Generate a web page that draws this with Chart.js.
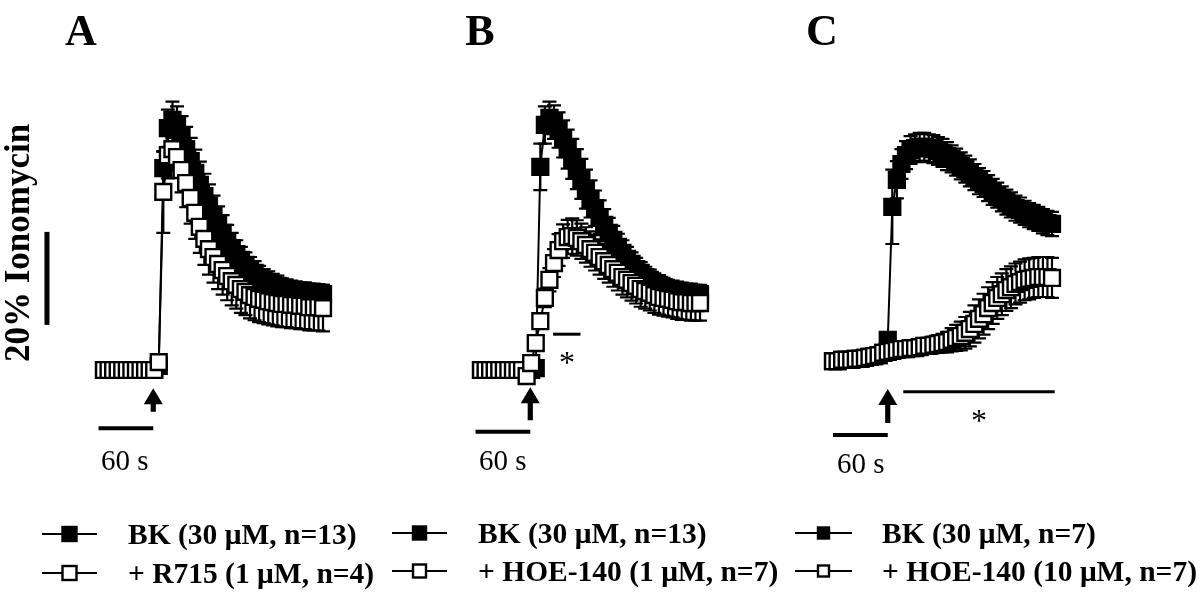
<!DOCTYPE html>
<html>
<head>
<meta charset="utf-8">
<script src="https://cdn.jsdelivr.net/npm/chart.js@4.4.1/dist/chart.umd.min.js"></script>
<style>
  html, body { margin: 0; padding: 0; background: #fff; }
  body { width: 1200px; height: 595px; position: relative; overflow: hidden; }
  canvas { position: absolute; top: 0; }
</style>
</head>
<body>
<canvas id="panelA"></canvas>
<canvas id="panelB"></canvas>
<canvas id="panelC"></canvas>
<script>
// time in s, one sample every 5 s (same grid for all three panels)
const times = [0, 5, 10, 15, 20, 25, 30, 35, 40, 45, 50, 55, 60, 65, 70, 75, 80, 85, 90, 95,
  100, 105, 110, 115, 120, 125, 130, 135, 140, 145, 150, 155, 160, 165, 170, 175, 180, 185, 190, 195,
  200, 205, 210, 215, 220, 225, 230, 235, 240];

// values in % of ionomycin response, errors = SEM
const bkA = [0, 0, 0, 0, 0, 0, 0, 0, 0, 0, 0, 0,
  0.9, 43.4, 52.0, 53.8, 52.5, 50.1, 47.5, 44.9, 42.4, 39.8, 37.4, 35.3, 33.1, 31.2, 29.5, 27.7, 26.2, 24.9,
  23.7, 22.6, 21.7, 20.9, 20.0, 19.4, 18.9, 18.5, 18.1, 17.6, 17.4, 17.2, 17.0, 16.8, 16.8, 16.6, 16.6, 16.3, 16.3];
const bkAErr = [0.4, 0.4, 0.4, 0.4, 0.4, 0.4, 0.4, 0.4, 0.4, 0.4, 0.4, 0.4,
  1.0, 3.5, 4.0, 3.9, 4.2, 4.5, 4.8, 5.0, 5.0, 5.0, 4.8, 4.6, 4.4, 4.0, 3.8, 3.5, 3.3, 3.0,
  2.8, 2.7, 2.6, 2.5, 2.4, 2.3, 2.3, 2.2, 2.2, 2.1, 2.1, 2.0, 2.0, 2.0, 2.0, 2.0, 2.0, 2.0, 2.0];
const r715A = [0, 0, 0, 0, 0, 0, 0, 0, 0, 0, 0, 0,
  1.7, 38.3, 46.2, 47.5, 45.8, 43.0, 40.2, 37.0, 33.8, 30.8, 28.2, 26.0, 24.3, 22.8, 21.5, 20.2, 19.1, 18.3,
  17.4, 16.8, 16.1, 15.7, 15.3, 15.1, 14.8, 14.6, 14.4, 14.2, 14.2, 14.0, 14.0, 13.8, 13.8, 13.5, 13.5, 13.5, 13.3];
const r715AErr = [0.4, 0.4, 0.4, 0.4, 0.4, 0.4, 0.4, 0.4, 0.4, 0.4, 0.4, 0.4,
  0.8, 8.8, 5.0, 4.5, 4.5, 4.8, 5.2, 5.5, 5.6, 5.6, 5.6, 5.5, 5.5, 5.4, 5.3, 5.2, 5.2, 5.1,
  5.1, 5.0, 5.0, 5.0, 5.0, 5.0, 5.0, 5.0, 5.0, 5.0, 5.0, 5.0, 5.0, 5.0, 5.0, 5.0, 5.0, 5.0, 5.0];

const bkB = [0, 0, 0, 0, 0, 0, 0, 0, 0, 0, 0, 0,
  0.4, 43.7, 52.7, 54.2, 53.3, 51.6, 49.7, 47.5, 45.4, 43.2, 41.1, 38.9, 36.8, 34.8, 32.9, 31.2, 29.5, 28.0,
  26.5, 25.2, 23.9, 22.8, 21.7, 20.9, 20.0, 19.4, 18.7, 18.3, 17.8, 17.4, 17.2, 17.0, 16.8, 16.6, 16.6, 16.3, 16.3];
const bkBErr = [0.4, 0.4, 0.4, 0.4, 0.4, 0.4, 0.4, 0.4, 0.4, 0.4, 0.4, 0.4,
  0.8, 5.0, 4.0, 3.5, 3.6, 3.8, 4.0, 4.2, 4.3, 4.3, 4.3, 4.2, 4.0, 3.8, 3.6, 3.4, 3.2, 3.0,
  2.8, 2.7, 2.6, 2.5, 2.4, 2.3, 2.2, 2.2, 2.1, 2.1, 2.0, 2.0, 2.0, 2.0, 2.0, 2.0, 2.0, 2.0, 2.0];
const hoe1B = [0, 0, 0, 0, 0, 0, 0, 0, 0,
  0.0, -1.3, 1.5, 5.8, 10.5, 15.5, 19.4, 23.0, 25.8, 27.7, 28.6, 28.8, 28.4, 27.7, 26.9, 26.0, 25.2, 24.3, 23.4,
  22.6, 21.7, 20.9, 20.0, 19.4, 18.7, 18.1, 17.4, 17.0, 16.6, 16.1, 15.7, 15.5, 15.3, 15.1, 14.8, 14.6, 14.6, 14.4, 14.4, 14.4];
const hoe1BErr = [0.4, 0.4, 0.4, 0.4, 0.4, 0.4, 0.4, 0.4, 0.4,
  0.5, 0.8, 1.0, 1.3, 1.6, 2.0, 2.5, 3.0, 3.4, 3.6, 3.7, 3.8, 3.8, 3.8, 3.8, 3.8, 3.8, 3.8, 3.8,
  3.8, 3.8, 3.8, 3.8, 3.8, 3.8, 3.8, 3.8, 3.8, 3.8, 3.8, 3.8, 3.8, 3.8, 3.8, 3.8, 3.8, 3.8, 3.8, 3.8, 3.8];

const bkC = [1.9, 1.9, 2.2, 2.2, 2.2, 2.4, 2.4, 2.6, 2.8, 3.0, 3.2, 3.7,
  6.5, 35.1, 40.9, 44.3, 46.2, 47.3, 47.7, 48.0, 48.0, 47.7, 47.5, 47.1, 46.7, 46.0, 45.4, 44.7, 43.9, 43.2,
  42.4, 41.5, 40.6, 40.0, 39.1, 38.3, 37.6, 36.8, 36.1, 35.5, 34.8, 34.4, 33.8, 33.3, 32.9, 32.5, 32.0, 31.6, 31.4];
const bkCErr = [0.8, 0.8, 0.8, 0.8, 0.8, 0.8, 0.8, 0.8, 0.8, 0.8, 0.8, 0.8,
  1.5, 8.0, 4.0, 3.2, 3.0, 3.0, 3.0, 3.0, 3.0, 3.0, 3.0, 3.0, 3.0, 3.0, 2.9, 2.9, 2.9, 2.9,
  2.9, 2.8, 2.8, 2.8, 2.8, 2.8, 2.7, 2.7, 2.7, 2.7, 2.7, 2.7, 2.6, 2.6, 2.6, 2.6, 2.6, 2.6, 2.6];
const hoe10C = [1.9, 1.9, 2.2, 2.2, 2.2, 2.4, 2.4, 2.6, 2.8, 3.0, 3.2, 3.7,
  3.9, 4.1, 4.3, 4.5, 4.5, 4.7, 4.7, 4.9, 5.2, 5.2, 5.4, 5.6, 5.8, 6.0, 6.5, 6.9, 7.3, 8.0,
  8.8, 9.9, 11.0, 12.0, 13.3, 14.4, 15.5, 16.3, 17.2, 17.8, 18.5, 18.9, 19.4, 19.6, 19.8, 20.0, 20.0, 20.0, 19.8];
const hoe10CErr = [1.0, 1.0, 1.0, 1.0, 1.0, 1.0, 1.0, 1.0, 1.0, 1.0, 1.0, 1.0,
  1.2, 1.2, 1.3, 1.3, 1.4, 1.4, 1.5, 1.5, 1.6, 1.7, 1.8, 1.9, 2.0, 2.2,
  2.5, 2.8, 3.1, 3.4, 3.7, 4.0, 4.2, 4.4, 4.5, 4.5, 4.5, 4.5, 4.5, 4.5, 4.4, 4.4, 4.4, 4.4, 4.3, 4.3, 4.3, 4.3, 4.3];

const labelsA = ['BK (30 \u03bcM, n=13)', '+ R715 (1 \u03bcM, n=4)'];
const labelsB = ['BK (30 \u03bcM, n=13)', '+ HOE-140 (1 \u03bcM, n=7)'];
const labelsC = ['BK (30 \u03bcM, n=7)', '+ HOE-140 (10 \u03bcM, n=7)'];

// page geometry
const PX_PER_SEC = 0.9125;   // 60 s -> 55 px
const PX_PER_PCT = 4.65;     // 20 % -> 93 px
const BASE_Y = 370;          // page y of 0 %
const H = 595;
const SERIF = '"Liberation Serif", "Times New Roman", serif';

// vertical SEM bars, drawn under each dataset's markers
const errorBars = {
  id: 'errorBars',
  beforeDatasetDraw(chart, args) {
    const ds = chart.data.datasets[args.index];
    if (!ds.errors) return;
    const ctx = chart.ctx, ys = chart.scales.y;
    ctx.save();
    ctx.strokeStyle = '#000';
    ctx.lineWidth = 2.2;
    args.meta.data.forEach((pt, i) => {
      const v = ds.data[i].y, e = ds.errors[i];
      const top = ys.getPixelForValue(v + e), bot = ys.getPixelForValue(v - e);
      ctx.beginPath();
      ctx.moveTo(pt.x, top); ctx.lineTo(pt.x, bot);
      ctx.moveTo(pt.x - 7, top); ctx.lineTo(pt.x + 7, top);
      ctx.moveTo(pt.x - 7, bot); ctx.lineTo(pt.x + 7, bot);
      ctx.stroke();
    });
    ctx.restore();
  }
};

function drawArrow(ctx, x, yTip, yEnd) {
  ctx.beginPath();
  ctx.moveTo(x, yTip);
  ctx.lineTo(x + 9.5, yTip + 16);
  ctx.lineTo(x + 2.6, yTip + 16);
  ctx.lineTo(x + 2.6, yEnd);
  ctx.lineTo(x - 2.6, yEnd);
  ctx.lineTo(x - 2.6, yTip + 16);
  ctx.lineTo(x - 9.5, yTip + 16);
  ctx.closePath();
  ctx.fill();
}

function makePanel(cfg) {
  const cv = document.getElementById(cfg.id);
  cv.width = cfg.width;
  cv.height = H;
  cv.style.left = cfg.left + 'px';

  const pts = vals => times.map((t, i) => ({ x: t, y: vals[i] }));
  const common = {
    borderColor: '#000', borderWidth: 2, tension: 0, fill: false,
    pointStyle: 'rect', pointRadius: cfg.marker, pointBorderWidth: 2.4, pointBorderColor: '#000'
  };

  const deco = {
    id: 'deco',
    afterDraw(chart) {
      const ctx = chart.ctx, xs = chart.scales.x, ys = chart.scales.y;
      const L = cfg.left;
      ctx.save();
      ctx.fillStyle = '#000';
      ctx.strokeStyle = '#000';

      // panel letter
      ctx.font = 'bold 44px ' + SERIF;
      ctx.textAlign = 'center';
      ctx.fillText(cfg.letter, cfg.letterX - L, 45);

      // 60 s bar ending at the BK arrow
      ctx.lineWidth = 4;
      ctx.beginPath();
      ctx.moveTo(xs.getPixelForValue(cfg.arrowT - 60), ys.getPixelForValue(cfg.barY));
      ctx.lineTo(xs.getPixelForValue(cfg.arrowT), ys.getPixelForValue(cfg.barY));
      ctx.stroke();
      ctx.font = '29px ' + SERIF;
      ctx.textAlign = 'left';
      ctx.fillText('60 s', cfg.secX - L, cfg.secY);

      // BK application arrow
      drawArrow(ctx, xs.getPixelForValue(cfg.arrowT), ys.getPixelForValue(cfg.arrowTop), ys.getPixelForValue(cfg.arrowBot));

      // significance marker
      if (cfg.sig) {
        ctx.lineWidth = 3;
        ctx.beginPath();
        ctx.moveTo(xs.getPixelForValue(cfg.sig.from), ys.getPixelForValue(cfg.sig.y));
        ctx.lineTo(xs.getPixelForValue(cfg.sig.to), ys.getPixelForValue(cfg.sig.y));
        ctx.stroke();
        ctx.font = '32px ' + SERIF;
        ctx.textAlign = 'center';
        ctx.fillText('*', cfg.sig.starX - L, cfg.sig.starY);
      }

      // 20 % ionomycin calibration bar (panel A only)
      if (cfg.calib) {
        ctx.lineWidth = 5;
        ctx.beginPath();
        ctx.moveTo(xs.getPixelForValue(cfg.calib.t), ys.getPixelForValue(cfg.calib.from));
        ctx.lineTo(xs.getPixelForValue(cfg.calib.t), ys.getPixelForValue(cfg.calib.from + 20));
        ctx.stroke();
        ctx.save();
        ctx.translate(20 - L, 243);
        ctx.rotate(-Math.PI / 2);
        ctx.font = 'bold 35px ' + SERIF;
        ctx.textAlign = 'center';
        ctx.textBaseline = 'middle';
        ctx.fillText('20% Ionomycin', 0, 0);
        ctx.restore();
      }

      // legend: filled series first, open series second
      [1, 0].forEach((di, row) => {
        const ds = chart.data.datasets[di];
        const y = cfg.legRows[row];
        ctx.lineWidth = 2;
        ctx.beginPath();
        ctx.moveTo(cfg.legLine[0] - L, y);
        ctx.lineTo(cfg.legLine[1] - L, y);
        ctx.stroke();
        const cx = (cfg.legLine[0] + cfg.legLine[1]) / 2 - L, s = cfg.legSq;
        ctx.fillStyle = ds.pointBackgroundColor;
        ctx.fillRect(cx - s / 2, y - s / 2, s, s);
        ctx.lineWidth = 2.4;
        ctx.strokeRect(cx - s / 2, y - s / 2, s, s);
        ctx.fillStyle = '#000';
        ctx.font = 'bold 29.5px ' + SERIF;
        ctx.textAlign = 'left';
        ctx.fillText(ds.label, cfg.legText - L, y + 10);
      });
      ctx.restore();
    }
  };

  return new Chart(cv, {
    type: 'line',
    data: {
      datasets: [
        Object.assign({}, common, {
          label: cfg.labels[1], data: pts(cfg.open), errors: cfg.openErr,
          pointBackgroundColor: '#fff', order: 0
        }),
        Object.assign({}, common, {
          label: cfg.labels[0], data: pts(cfg.filled), errors: cfg.filledErr,
          pointBackgroundColor: '#000', order: 1
        })
      ]
    },
    options: {
      responsive: false,
      animation: false,
      events: [],
      layout: { padding: 0, autoPadding: false },
      plugins: { legend: { display: false }, tooltip: { enabled: false } },
      scales: {
        x: {
          type: 'linear', display: false,
          min: (cfg.left - cfg.x0) / PX_PER_SEC,
          max: (cfg.left + cfg.width - cfg.x0) / PX_PER_SEC
        },
        y: {
          display: false,
          min: (BASE_Y - H) / PX_PER_PCT,
          max: BASE_Y / PX_PER_PCT
        }
      }
    },
    plugins: [errorBars, deco]
  });
}

makePanel({
  id: 'panelA', left: 0, width: 390, x0: 104, marker: 11.2,
  filled: bkA, filledErr: bkAErr, open: r715A, openErr: r715AErr, labels: labelsA,
  letter: 'A', letterX: 81,
  arrowT: 54, arrowTop: -3.9, arrowBot: -9.0, barY: -12.5,
  secX: 101, secY: 470,
  calib: { t: -62.5, from: 9.7 },
  legLine: [42, 97], legSq: 14, legText: 128, legRows: [534, 573]
});

makePanel({
  id: 'panelB', left: 380, width: 420, x0: 481, marker: 11.2,
  filled: bkB, filledErr: bkBErr, open: hoe1B, openErr: hoe1BErr, labels: labelsB,
  letter: 'B', letterX: 480,
  arrowT: 54, arrowTop: -3.7, arrowBot: -10.8, barY: -13.3,
  secX: 479, secY: 470,
  sig: { from: 79, to: 109, y: 7.7, starX: 567, starY: 373 },
  legLine: [392, 447], legSq: 13, legText: 478, legRows: [533, 571]
});

makePanel({
  id: 'panelC', left: 780, width: 420, x0: 833, marker: 11.2,
  filled: bkC, filledErr: bkCErr, open: hoe10C, openErr: hoe10CErr, labels: labelsC,
  letter: 'C', letterX: 822,
  arrowT: 60, arrowTop: -4.1, arrowBot: -11.4, barY: -14.0,
  secX: 837, secY: 473,
  sig: { from: 77, to: 243, y: -4.7, starX: 979, starY: 431 },
  legLine: [795, 852], legSq: 11, legText: 882, legRows: [533, 571]
});
</script>
</body>
</html>
